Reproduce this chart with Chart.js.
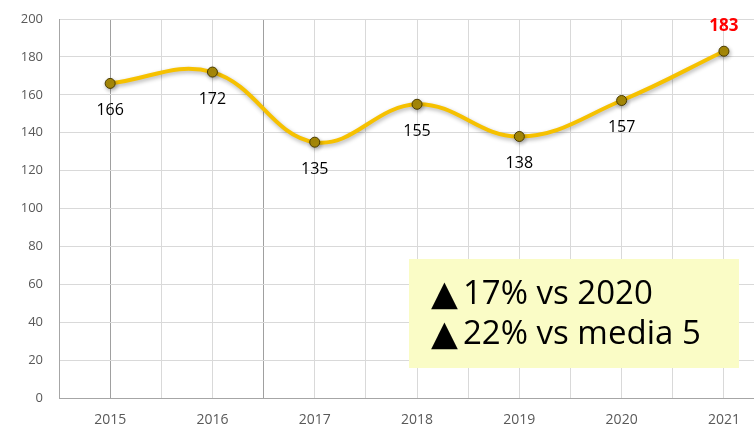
<!DOCTYPE html>
<html>
<head>
<meta charset="utf-8">
<script src="https://cdn.jsdelivr.net/npm/chart.js@4.4.1/dist/chart.umd.min.js"></script>
<style>
  html, body { margin: 0; padding: 0; background: #fff; overflow: hidden; }
  #wrap { width: 760px; height: 429px; }
</style>
</head>
<body>
<div id="wrap"><canvas id="chart"></canvas></div>
<script>
const years = [2015, 2016, 2017, 2018, 2019, 2020, 2021];
const values = [166, 172, 135, 155, 138, 157, 183];
const yTicks = [0, 20, 40, 60, 80, 100, 120, 140, 160, 180, 200];
const noteMark = '\u25B2';
const noteLines = ['17% vs 2020', '22% vs media 5'];

const FONT = "'Open Sans', 'Liberation Sans', sans-serif";

// etichette sotto i punti, l'ultimo in rosso sopra
const labelPlugin = {
    id: 'labels',
    afterDatasetsDraw(chart) {
        const ctx = chart.ctx;
        const meta = chart.getDatasetMeta(0);
        ctx.save();
        ctx.textAlign = 'center';
        ctx.textBaseline = 'middle';
        meta.data.forEach((pt, i) => {
            if (i === values.length - 1) {
                ctx.fillStyle = '#ff0000';
                ctx.font = "bold 17px " + FONT;
                ctx.fillText(values[i], pt.x, pt.y - 25);
            } else {
                ctx.fillStyle = '#000';
                ctx.font = "16px " + FONT;
                ctx.fillText(values[i], pt.x, pt.y + 27);
            }
        });
        ctx.restore();
    }
};

// riquadro con le variazioni
const notePlugin = {
    id: 'note',
    afterDraw(chart) {
        const ctx = chart.ctx;
        ctx.save();
        ctx.fillStyle = '#fafcc6';
        ctx.fillRect(409, 259, 330, 109);
        ctx.fillStyle = '#000';
        ctx.textBaseline = 'alphabetic';
        [304, 344].forEach((base, i) => {
            ctx.font = "35px 'DejaVu Sans', sans-serif";
            ctx.fillText(noteMark, 431, base + 1);
            ctx.font = "33px " + FONT;
            ctx.fillText(noteLines[i], 463, base);
        });
        ctx.restore();
    }
};

const shadowPlugin = {
    id: 'shadow',
    beforeDatasetDraw(chart) {
        const ctx = chart.ctx;
        ctx.save();
        ctx.shadowColor = 'rgba(0,0,0,0.3)';
        ctx.shadowBlur = 4;
        ctx.shadowOffsetX = 1;
        ctx.shadowOffsetY = 2;
    },
    afterDatasetDraw(chart) {
        chart.ctx.restore();
    }
};

const ctx = document.getElementById('chart').getContext('2d');
new Chart(ctx, {
    type: 'line',
    data: {
        datasets: [{
            data: years.map((y, i) => ({ x: y, y: values[i] })),
            borderColor: '#f6c100',
            borderWidth: 4,
            tension: 0.4,
            pointRadius: 5,
            pointBackgroundColor: '#a88a08',
            pointBorderColor: '#4a3c00',
            pointBorderWidth: 1
        }]
    },
    plugins: [shadowPlugin, labelPlugin, notePlugin],
    options: {
        responsive: true,
        maintainAspectRatio: false,
        animation: false,
        layout: { padding: { top: 19, right: 0, left: 0, bottom: 0 } },
        plugins: { legend: { display: false }, tooltip: { enabled: false } },
        scales: {
            x: {
                type: 'linear',
                min: 2014.5,
                max: 2021.294,
                afterBuildTicks(scale) {
                    const t = [];
                    years.forEach(y => { t.push({ value: y - 0.5 }); t.push({ value: y }); });
                    scale.ticks = t;
                },
                afterFit(scale) {
                    scale.height = 31;
                    scale.paddingLeft = 0;
                    scale.paddingRight = 0;
                },
                grid: {
                    color: c => (c.tick && (c.tick.value === 2015 || c.tick.value === 2016.5)) ? '#a0a0a0' : '#d9d9d9',
                    drawTicks: false
                },
                border: { color: '#a6a6a6', width: 1 },
                ticks: {
                    autoSkip: false,
                    maxRotation: 0,
                    padding: 14,
                    color: '#595959',
                    font: { family: FONT, size: 14 },
                    callback: v => Number.isInteger(v) ? String(v) : ''
                }
            },
            y: {
                min: 0,
                max: 200,
                afterBuildTicks(scale) { scale.ticks = yTicks.map(v => ({ value: v })); },
                afterFit(scale) {
                    scale.width = 59;
                    scale.paddingTop = 0;
                    scale.paddingBottom = 0;
                },
                grid: { color: '#d9d9d9', drawTicks: false },
                border: { color: '#a6a6a6', width: 1 },
                ticks: {
                    padding: 16,
                    color: '#595959',
                    font: { family: FONT, size: 13 }
                }
            }
        }
    }
});
</script>
</body>
</html>
